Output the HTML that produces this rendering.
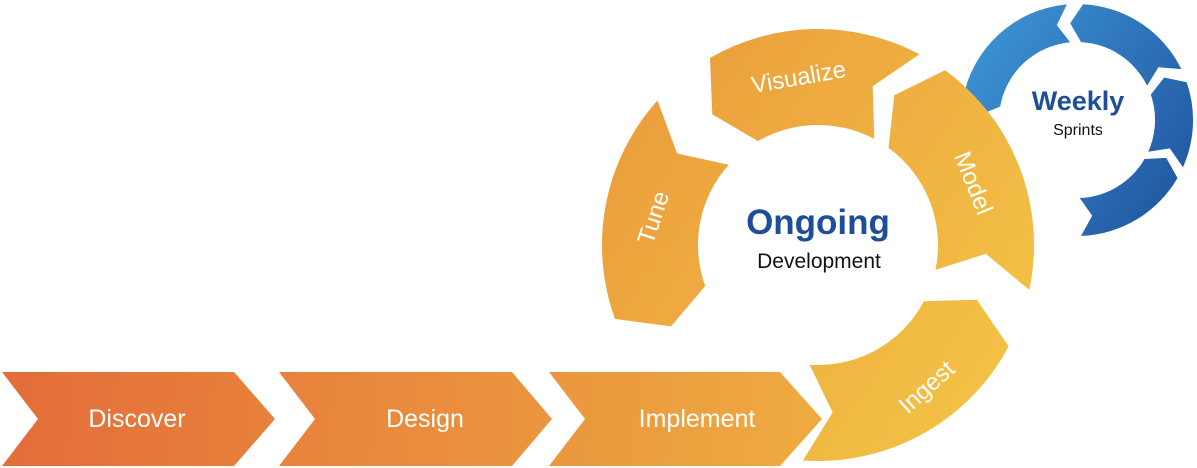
<!DOCTYPE html>
<html><head><meta charset="utf-8"><style>
html,body{margin:0;padding:0;background:#fff;width:1197px;height:468px;overflow:hidden}
svg{display:block}
text{font-family:"Liberation Sans",sans-serif}
</style></head><body>
<svg id="s" width="1197" height="468" viewBox="0 0 1197 468">
<defs>
<linearGradient id="gb" gradientUnits="userSpaceOnUse" x1="0" y1="380" x2="820" y2="460"><stop offset="0" stop-color="#e46c39"/><stop offset="1" stop-color="#eeab40"/></linearGradient>
<linearGradient id="gr" gradientUnits="userSpaceOnUse" x1="600" y1="100" x2="1040" y2="400"><stop offset="0" stop-color="#eb9c3c"/><stop offset="1" stop-color="#f3c546"/></linearGradient>
<linearGradient id="gbl" gradientUnits="userSpaceOnUse" x1="960" y1="40" x2="1195" y2="200"><stop offset="0" stop-color="#3c95d6"/><stop offset="1" stop-color="#2155a0"/></linearGradient>
</defs>
<g id="blue" fill="url(#gbl)"></g>
<g id="ring" fill="url(#gr)"></g>
<path fill="url(#gb)" d="M2,372 L234,372 L275,419 L234,466 L2,466 L38,419 Z"/>
<path fill="url(#gb)" d="M279,372 L512,372 L552,419 L512,466 L279,466 L315,419 Z"/>
<path fill="url(#gb)" d="M549,372 L780,372 L822,419 L780,466 L549,466 L585,419 Z"/>
<text x="137" y="427" font-size="25" fill="#fff" text-anchor="middle">Discover</text>
<text x="425" y="427" font-size="25" fill="#fff" text-anchor="middle">Design</text>
<text x="697" y="427" font-size="25" fill="#fff" text-anchor="middle">Implement</text>
<text x="818" y="234" font-size="35" font-weight="bold" fill="#1f4e99" text-anchor="middle">Ongoing</text>
<text x="819" y="268" font-size="21" fill="#111" text-anchor="middle">Development</text>
<text x="1078" y="110" font-size="27" font-weight="bold" fill="#1f4e99" text-anchor="middle">Weekly</text>
<text x="1078" y="135" font-size="16" fill="#111" text-anchor="middle">Sprints</text>
<text transform="translate(661,220) rotate(-72)" font-size="24" fill="#fff" text-anchor="middle">Tune</text>
<text transform="translate(800,85) rotate(-10)" font-size="24" fill="#fff" text-anchor="middle">Visualize</text>
<text transform="translate(966,186) rotate(68)" font-size="24" fill="#fff" text-anchor="middle">Model</text>
<text transform="translate(932,393) rotate(-42)" font-size="24" fill="#fff" text-anchor="middle">Ingest</text>
</svg>
<script>
function seg(cx,cy,ri,ro,a1,a2,d){
 var R=Math.PI/180,rm=(ri+ro)/2;
 function p(r,a){return (cx+r*Math.cos(a*R)).toFixed(1)+","+(cy+r*Math.sin(a*R)).toFixed(1);}
 var big=(a2-a1)>180?1:0;
 return "M"+p(ro,a1)+" A"+ro+","+ro+" 0 "+big+" 1 "+p(ro,a2)+" L"+p(rm,a2-d)+" L"+p(ri,a2)+" A"+ri+","+ri+" 0 "+big+" 0 "+p(ri,a1)+" L"+p(rm,a1-d)+" Z";
}
function add(g,d){var e=document.createElementNS("http://www.w3.org/2000/svg","path");e.setAttribute("d",d);document.getElementById(g).appendChild(e);}
var cx=818,cy=245,ri=120,ro=216;
[[160,222],[240,298],[306,372],[28,94]].forEach(function(s){add("ring",seg(cx,cy,ri,ro,s[0],s[1],9));});
[[190,265],[273,334],[341,384],[30,88]].forEach(function(s){add("blue",seg(1077,120,78,116,s[0],s[1],7));});
</script>
</body></html>
